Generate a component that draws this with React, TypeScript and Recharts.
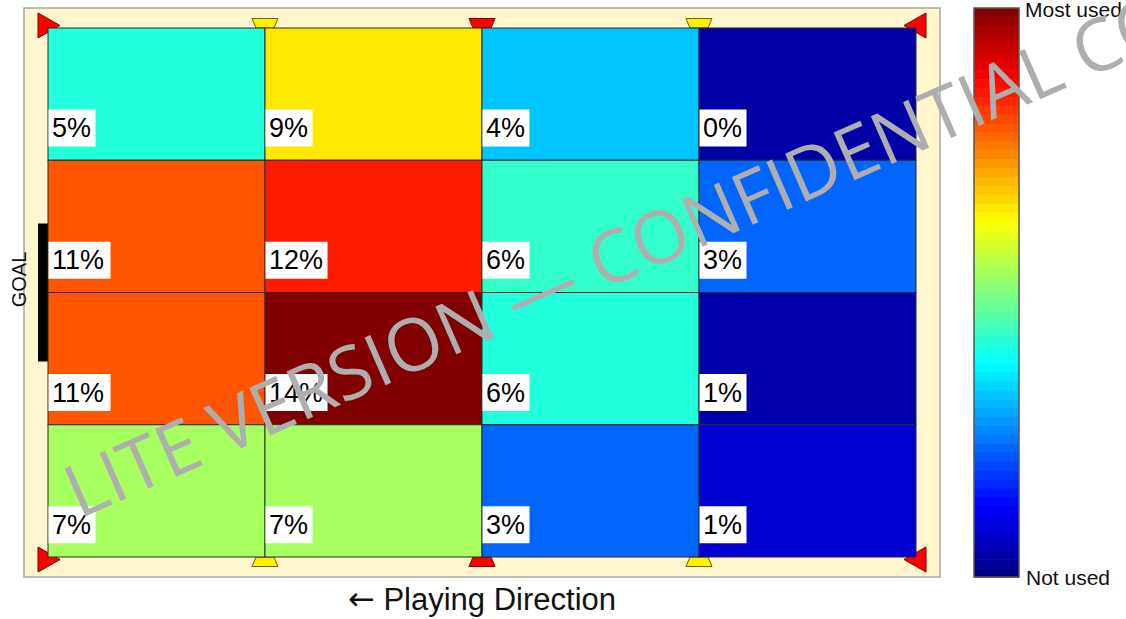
import React from "react";
import { ScatterChart, Scatter, XAxis, YAxis, Customized } from "recharts";

// pitch zones: 4 columns x 4 rows, share of time spent (%)
const columns = [0, 1, 2, 3];
const zoneRows = [0, 1, 2, 3];
const usageRow1 = [5, 9, 4, 0];
const usageRow2 = [11, 12, 6, 3];
const usageRow3 = [11, 14, 6, 1];
const usageRow4 = [7, 7, 3, 1];
const usageByRow = [usageRow1, usageRow2, usageRow3, usageRow4];

// pitch furniture, in zone units
const cornerFlags = [
  { x: 0, y: 0 },
  { x: 4, y: 0 },
  { x: 0, y: 4 },
  { x: 4, y: 4 },
];
const lineFlagX = [1, 2, 3];
const lineFlagY = [0, 4];
const goalSpot = [{ x: 0, y: 2 }];
const pitchCentre = [{ x: 2, y: 2 }];

const legendTop = "Most used";
const legendBottom = "Not used";
const goalLabel = "GOAL";
const directionArrow = "\u2190";
const directionLabel = "Playing Direction";
const watermark = "LITE VERSION \u2014 CONFIDENTIAL CONTENT";

// cell fills as drawn in the original (jet-like scale)
const zoneColors = [
  ["#22FFDD", "#FFE800", "#00C4FF", "#0000A6"],
  ["#FF5500", "#FF1A00", "#33FFCC", "#0066FF"],
  ["#FF5500", "#800000", "#22FFDD", "#0000AA"],
  ["#A8FF60", "#A8FF60", "#0066FF", "#0000D0"],
];

const W = 1126;
const H = 619;
const margin = { top: 28, right: 210, bottom: 62, left: 48 };
const PLOT_W = W - margin.left - margin.right;
const PLOT_H = H - margin.top - margin.bottom;
const CELL_W = PLOT_W / 4;
const CELL_H = PLOT_H / 4;
const FONT = "'Liberation Sans', Arial, Helvetica, sans-serif";

const zones = zoneRows.flatMap((r) =>
  columns.map((c) => ({ x: c + 0.5, y: r + 0.5, pct: usageByRow[r][c], row: r, col: c }))
);
const lineFlags = lineFlagY.flatMap((y) => lineFlagX.map((x) => ({ x, y })));

function textWidth(s: string, size: number) {
  let w = 0;
  for (const ch of s) w += ch === "%" ? 0.889 : 0.556;
  return w * size;
}

function PitchShape(props: any) {
  const { cx, cy } = props;
  return (
    <rect
      x={cx - PLOT_W / 2 - 24}
      y={cy - PLOT_H / 2 - 20}
      width={PLOT_W + 48}
      height={PLOT_H + 40}
      fill="#FFF6CE"
      stroke="#A8A8A0"
      strokeWidth={1.5}
    />
  );
}

function CornerShape(props: any) {
  const { cx, cy, payload } = props;
  const dir = payload.x === 0 ? 1 : -1;
  const dy = payload.y === 0 ? -2.5 : 2.5;
  const c = cy + dy;
  const pts = [
    [cx - 10 * dir, c - 12.5],
    [cx + 12 * dir, c],
    [cx - 10 * dir, c + 12.5],
  ];
  return (
    <polygon
      points={pts.map((p) => p.join(",")).join(" ")}
      fill="#FF0000"
      stroke="#7A0000"
      strokeWidth={1}
    />
  );
}

function LineFlagShape(props: any) {
  const { cx, cy, payload } = props;
  const s = payload.y === 0 ? -1 : 1;
  const pts = [
    [cx - 9, cy],
    [cx + 9, cy],
    [cx + 13, cy + 9.5 * s],
    [cx - 13, cy + 9.5 * s],
  ];
  const half = payload.x === 2;
  return (
    <polygon
      points={pts.map((p) => p.join(",")).join(" ")}
      fill={half ? "#FF0000" : "#FFF000"}
      stroke={half ? "#7A0000" : "#6E6400"}
      strokeWidth={1}
    />
  );
}

function GoalShape(props: any) {
  const { cx, cy } = props;
  return (
    <g>
      <rect x={cx - 10} y={cy - 69} width={10} height={138} fill="#000" />
      <text
        x={26}
        y={cy - 13}
        transform={`rotate(-90, 26, ${cy - 13})`}
        textAnchor="middle"
        fontFamily={FONT}
        fontSize={20}
        fill="#111"
      >
        {goalLabel}
      </text>
    </g>
  );
}

function ZoneShape(props: any) {
  const { cx, cy, payload } = props;
  const left = cx - CELL_W / 2;
  const top = cy - CELL_H / 2;
  return (
    <rect
      x={left}
      y={top}
      width={CELL_W}
      height={CELL_H}
      fill={zoneColors[payload.row][payload.col]}
      stroke="#2A2A2A"
      strokeWidth={1}
    />
  );
}

function ZoneLabel(props: any) {
  const { cx, cy, payload } = props;
  const left = cx - CELL_W / 2;
  const mid = cy - CELL_H / 2 + 100;
  const txt = `${payload.pct}%`;
  const tw = textWidth(txt, 27);
  return (
    <g>
      <rect x={left + 0.5} y={mid - 18.5} width={tw + 8} height={37} fill="#FFFFFF" />
      <text x={left + 4} y={mid + 9} fontFamily={FONT} fontSize={27} fill="#000">
        {txt}
      </text>
    </g>
  );
}

function jet(t: number) {
  const f = (v: number) => Math.round(255 * Math.max(0, Math.min(1, v)));
  return `rgb(${f(1.5 - Math.abs(4 * t - 3))},${f(1.5 - Math.abs(4 * t - 2))},${f(
    1.5 - Math.abs(4 * t - 1)
  )})`;
}

function ColorBar() {
  const x = 974;
  const y0 = 8;
  const h = 569;
  const n = 64;
  const bands = Array.from({ length: n }, (_, i) => i);
  return (
    <g>
      {bands.map((i) => (
        <rect
          key={i}
          x={x}
          y={y0 + (i * h) / n}
          width={45}
          height={h / n + 0.6}
          fill={jet(1 - (i + 0.5) / n)}
        />
      ))}
      <rect x={x} y={y0} width={45} height={h} fill="none" stroke="#555" strokeWidth={1.5} />
      <text x={1025} y={17} fontFamily={FONT} fontSize={21} fill="#111">
        {legendTop}
      </text>
      <text x={1026} y={585} fontFamily={FONT} fontSize={21} fill="#111">
        {legendBottom}
      </text>
      <text x={482} y={610} textAnchor="middle" fontFamily={FONT} fontSize={31} fill="#111">
        <tspan fontFamily="'DejaVu Sans', sans-serif" fontSize={32}>
          {directionArrow}
        </tspan>
        <tspan> {directionLabel}</tspan>
      </text>
    </g>
  );
}

export default function App() {
  return (
    <div style={{ position: "absolute", left: 0, top: 0, width: W, height: H, background: "#fff" }}>
      <ScatterChart width={W} height={H} margin={margin}>
        <XAxis type="number" dataKey="x" domain={[0, 4]} hide />
        <YAxis type="number" dataKey="y" domain={[0, 4]} reversed hide />
        <Scatter data={pitchCentre} shape={PitchShape} isAnimationActive={false} />
        <Scatter data={cornerFlags} shape={CornerShape} isAnimationActive={false} />
        <Scatter data={lineFlags} shape={LineFlagShape} isAnimationActive={false} />
        <Scatter data={goalSpot} shape={GoalShape} isAnimationActive={false} />
        <Scatter data={zones} shape={ZoneShape} isAnimationActive={false} />
        <Scatter data={zones} shape={ZoneLabel} isAnimationActive={false} />
        <Customized component={<ColorBar />} />
      </ScatterChart>
      <svg
        width={W}
        height={H}
        style={{ position: "absolute", left: 0, top: 0, pointerEvents: "none" }}
      >
        <text
          x={79}
          y={519}
          transform="rotate(-23.6, 79, 519)"
          fontFamily="'Open Sans', sans-serif"
          fontSize={73}
          fill="#AEAEAE"
        >
          {watermark}
        </text>
      </svg>
    </div>
  );
}
